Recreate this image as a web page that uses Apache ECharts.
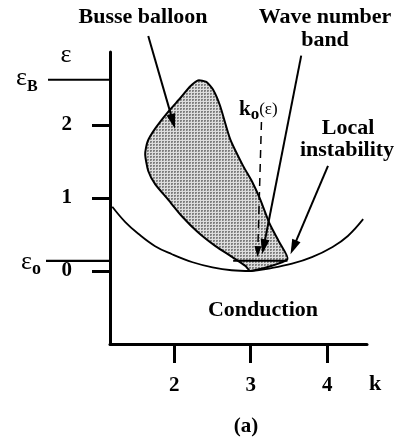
<!DOCTYPE html>
<html>
<head>
<meta charset="utf-8">
<script src="https://cdn.jsdelivr.net/npm/echarts@6/dist/echarts.min.js"></script>
<style>
  html, body { margin: 0; padding: 0; background: #fff; }
  #chart { width: 397px; height: 441px; }
</style>
</head>
<body>
<div id="chart"></div>
<script>
// Axis ticks: wave number k and control parameter ε
const kTicks = [2, 3, 4];
const epsTicks = [0, 1, 2];
const K_MIN = 1.16;
const K_MAX = 4.52;
const EPS_MIN = -1;
const EPS_MAX = 3;
const EPS_B = 2.62;   // top of the balloon
const EPS_O = 0.14;   // level of the wave number band

// Neutral stability curve of the conduction state
const neutralK   = [1.19, 1.36, 1.53, 1.75, 1.97, 2.24, 2.50, 2.75, 3.00, 3.27, 3.54, 3.80, 4.07, 4.27, 4.47];
const neutralEps = [0.88, 0.67, 0.51, 0.34, 0.23, 0.12, 0.05, 0.01, 0.00, 0.04, 0.10, 0.19, 0.33, 0.48, 0.71];

// Busse balloon outline (region of stable rolls), clockwise from the bottom tip
const balloonK   = [3.00, 2.93, 2.76, 2.54, 2.31, 2.10, 1.91, 1.75, 1.66, 1.62, 1.65, 1.75, 1.92, 2.08, 2.21, 2.31, 2.42, 2.51, 2.60, 2.73, 2.90, 3.02, 3.12, 3.25, 3.37, 3.48];
const balloonEps = [0.00, 0.07, 0.19, 0.34, 0.53, 0.75, 0.99, 1.19, 1.37, 1.60, 1.77, 1.95, 2.18, 2.37, 2.53, 2.61, 2.59, 2.48, 2.26, 1.81, 1.44, 1.22, 0.99, 0.64, 0.40, 0.16];

// Wave number band at ε_o
const bandK = [2.77, 3.48];

// Annotation arrows: start k, start ε, tip k, tip ε, dashed
const arrowBusse = [1.66, 3.22, 2.01, 1.95, 0];
const arrowBand  = [3.66, 2.95, 3.15, 0.23, 0];
const arrowLocal = [4.01, 1.44, 3.52, 0.23, 0];
const arrowK0    = [3.14, 2.04, 3.09, 0.19, 1];

const SERIF = '"Liberation Serif", "DejaVu Serif", serif';

// Dotted gray fill used inside the balloon
function makeDotPattern() {
  const c = document.createElement('canvas');
  c.width = 3; c.height = 3;
  const g = c.getContext('2d');
  g.fillStyle = '#dedede';
  g.fillRect(0, 0, 3, 3);
  g.fillStyle = '#808080';
  g.fillRect(0, 0, 2, 1);
  g.fillRect(0, 0, 1, 2);
  g.fillStyle = '#a8a8a8';
  g.fillRect(1, 1, 1, 1);
  return c;
}
const dotPattern = { image: makeDotPattern(), repeat: 'repeat' };

const chart = echarts.init(document.getElementById('chart'), null, { renderer: 'canvas' });

function arrowShape(api, a) {
  const p0 = api.coord([a[0], a[1]]);
  const p1 = api.coord([a[2], a[3]]);
  const dx = p1[0] - p0[0], dy = p1[1] - p0[1];
  const len = Math.sqrt(dx * dx + dy * dy);
  const ux = dx / len, uy = dy / len;
  const dashed = a[4] === 1;
  const headL = dashed ? 11 : 15;
  const headW = dashed ? 3.5 : 4.5;
  const base = [p1[0] - ux * headL, p1[1] - uy * headL];
  const lineEnd = [p1[0] - ux * (headL - 3), p1[1] - uy * (headL - 3)];
  return [
    {
      type: 'line',
      shape: { x1: p0[0], y1: p0[1], x2: lineEnd[0], y2: lineEnd[1] },
      style: { stroke: '#000', lineWidth: dashed ? 1.5 : 2, lineDash: dashed ? [8, 6] : null }
    },
    {
      type: 'polygon',
      shape: { points: [p1, [base[0] - uy * headW, base[1] + ux * headW], [base[0] + uy * headW, base[1] - ux * headW]] },
      style: { fill: '#000' }
    }
  ];
}

const option = {
  animation: false,
  backgroundColor: '#fff',
  grid: { left: 110, right: 30, top: 52, bottom: 97, containLabel: false, outerBoundsMode: 'none' },
  xAxis: {
    type: 'value',
    min: K_MIN,
    max: K_MAX,
    axisLine: { show: true, onZero: false, lineStyle: { color: '#000', width: 3 } },
    axisTick: { show: true, customValues: kTicks, length: 19, lineStyle: { color: '#000', width: 3 } },
    axisLabel: {
      customValues: kTicks, margin: 31, color: '#000',
      fontFamily: SERIF, fontWeight: 'bold', fontSize: 21
    },
    splitLine: { show: false }
  },
  yAxis: {
    type: 'value',
    min: EPS_MIN,
    max: EPS_MAX,
    axisLine: { show: true, onZero: false, lineStyle: { color: '#000', width: 3 } },
    axisTick: { show: true, customValues: epsTicks, length: 18, lineStyle: { color: '#000', width: 3 } },
    axisLabel: {
      customValues: epsTicks, margin: 38, color: '#000',
      fontFamily: SERIF, fontWeight: 'bold', fontSize: 21
    },
    splitLine: { show: false }
  },
  series: [
    {
      // shaded Busse balloon
      type: 'custom',
      clip: false,
      z: 2,
      data: [[balloonK[0], balloonEps[0]]],
      renderItem: function (params, api) {
        const pts = balloonK.map((k, i) => api.coord([k, balloonEps[i]]));
        return {
          type: 'polygon',
          shape: { points: pts, smooth: 0.2 },
          style: { fill: dotPattern, stroke: '#000', lineWidth: 2 }
        };
      }
    },
    {
      // neutral curve
      type: 'line',
      z: 3,
      smooth: 0.4,
      symbol: 'none',
      lineStyle: { color: '#000', width: 1.8 },
      data: neutralK.map((k, i) => [k, neutralEps[i]])
    },
    {
      // wave number band
      type: 'line',
      z: 3,
      symbol: 'none',
      lineStyle: { color: '#000', width: 2 },
      data: bandK.map(k => [k, EPS_O])
    },
    {
      // long ticks marking ε_B and ε_o
      type: 'custom',
      clip: false,
      z: 4,
      data: [[K_MIN, EPS_B, 62], [K_MIN, EPS_O, 64]],
      renderItem: function (params, api) {
        const p = api.coord([api.value(0), api.value(1)]);
        const w = api.value(2);
        return {
          type: 'line',
          shape: { x1: p[0] - w, y1: p[1], x2: p[0], y2: p[1] },
          style: { stroke: '#000', lineWidth: 2.2 }
        };
      }
    },
    {
      // annotation arrows
      type: 'custom',
      clip: false,
      z: 5,
      data: [arrowBusse, arrowBand, arrowLocal, arrowK0],
      renderItem: function (params, api) {
        const a = [api.value(0), api.value(1), api.value(2), api.value(3), api.value(4)];
        return { type: 'group', children: arrowShape(api, a) };
      }
    }
  ],
  graphic: [
    { type: 'text', x: 143, y: 17, style: { text: 'Busse balloon', font: 'bold 22px ' + SERIF, fill: '#000', align: 'center', verticalAlign: 'middle' } },
    { type: 'text', x: 325, y: 17, style: { text: 'Wave number', font: 'bold 22px ' + SERIF, fill: '#000', align: 'center', verticalAlign: 'middle' } },
    { type: 'text', x: 325, y: 40, style: { text: 'band', font: 'bold 22px ' + SERIF, fill: '#000', align: 'center', verticalAlign: 'middle' } },
    { type: 'text', x: 348, y: 128, style: { text: 'Local', font: 'bold 22px ' + SERIF, fill: '#000', align: 'center', verticalAlign: 'middle' } },
    { type: 'text', x: 347, y: 150, style: { text: 'instability', font: 'bold 22px ' + SERIF, fill: '#000', align: 'center', verticalAlign: 'middle' } },
    { type: 'text', x: 263, y: 310, style: { text: 'Conduction', font: 'bold 22px ' + SERIF, fill: '#000', align: 'center', verticalAlign: 'middle' } },
    { type: 'text', x: 246, y: 427, style: { text: '(a)', font: 'bold 21px ' + SERIF, fill: '#000', align: 'center', verticalAlign: 'middle' } },
    { type: 'text', x: 375, y: 384, style: { text: 'k', font: 'bold 22px ' + SERIF, fill: '#000', align: 'center', verticalAlign: 'middle' } },
    { type: 'text', x: 66, y: 55, style: { text: 'ε', font: '26px ' + SERIF, fill: '#000', align: 'center', verticalAlign: 'middle' } },
    {
      type: 'text', x: 16, y: 65,
      style: {
        text: '{e|ε}{s|B}', fill: '#000',
        rich: {
          e: { font: '26px ' + SERIF, fill: '#000', verticalAlign: 'top' },
          s: { font: 'bold 16px ' + SERIF, fill: '#000', padding: [14, 0, 0, 0] }
        }
      }
    },
    {
      type: 'text', x: 21, y: 246,
      style: {
        text: '{e|ε}{s|o}', fill: '#000',
        rich: {
          e: { font: '26px ' + SERIF, fill: '#000' },
          s: { font: 'bold 18px ' + SERIF, fill: '#000', padding: [14, 0, 0, 0] }
        }
      }
    },
    {
      type: 'text', x: 239, y: 96,
      style: {
        text: '{k|k}{s|o}{p|(ε)}', fill: '#000',
        rich: {
          k: { font: 'bold 21px ' + SERIF, fill: '#000' },
          s: { font: 'bold 17px ' + SERIF, fill: '#000', padding: [10, 0, 0, 0] },
          p: { font: '17px ' + SERIF, fill: '#000' }
        }
      }
    }
  ]
};

chart.setOption(option);
</script>
</body>
</html>
